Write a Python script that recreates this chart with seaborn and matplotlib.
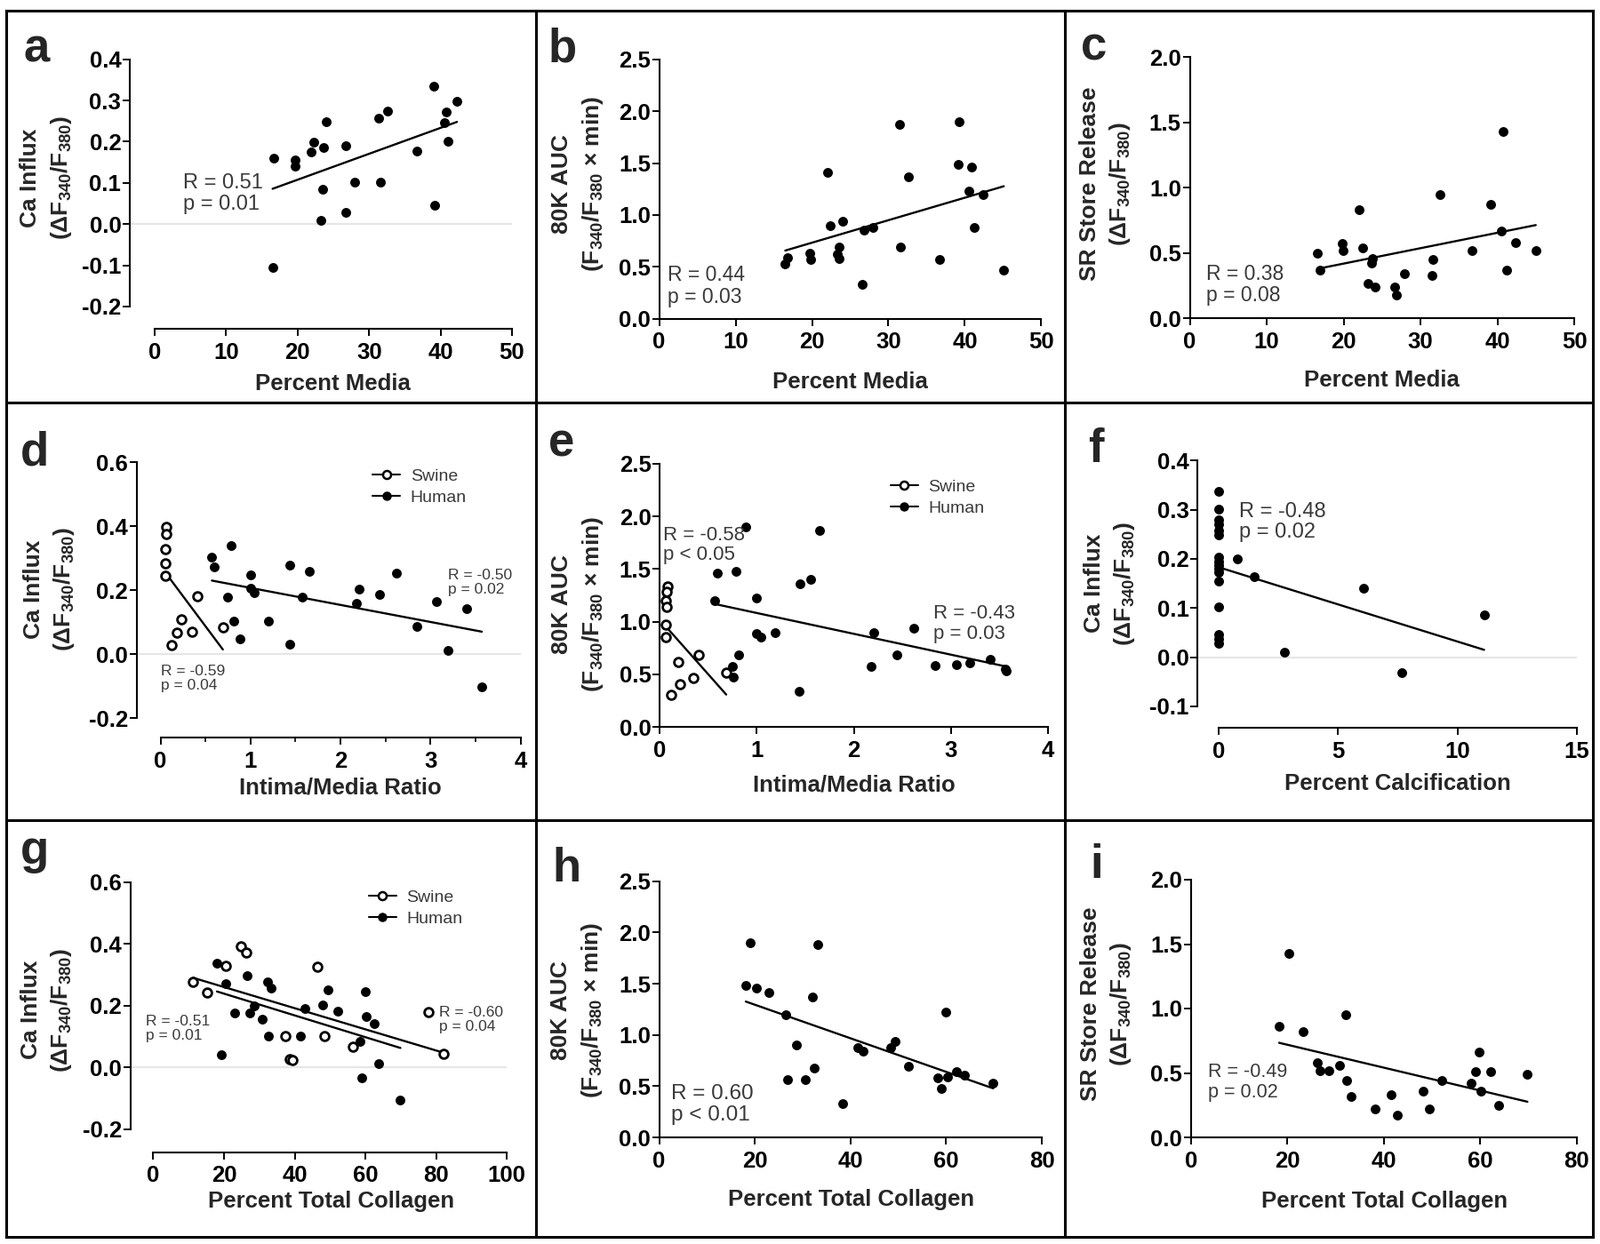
import numpy as np
import pandas as pd
import matplotlib
matplotlib.use("Agg")
import matplotlib.pyplot as plt
import seaborn as sns
from matplotlib.lines import Line2D
from matplotlib.ticker import FormatStrFormatter, MultipleLocator

sns.set_theme(style="ticks")
plt.rcParams["font.family"] = ["Liberation Sans", "DejaVu Sans"]
plt.rcParams["font.weight"] = "bold"
plt.rcParams["axes.unicode_minus"] = False
plt.rcParams["mathtext.fontset"] = "custom"
plt.rcParams["mathtext.rm"] = "Liberation Sans:bold"
plt.rcParams["mathtext.it"] = "Liberation Sans:bold"
plt.rcParams["mathtext.bf"] = "Liberation Sans:bold"
plt.rcParams["mathtext.default"] = "rm"

# ---------------- data ----------------
# a: Percent Media vs Ca influx
a_media = [16.7, 16.5, 19.6, 19.6, 21.9, 22.3, 23.6, 24.0, 23.5, 23.2, 26.8, 28.0, 26.7,
           31.4, 32.6, 31.6, 36.7, 39.1, 39.2, 40.8, 40.5, 41.0, 42.3]
a_ca = [0.161, -0.105, 0.156, 0.14, 0.176, 0.199, 0.185, 0.249, 0.085, 0.009, 0.19, 0.101, 0.029,
        0.257, 0.275, 0.101, 0.178, 0.335, 0.045, 0.272, 0.246, 0.201, 0.298]
# b: Percent Media vs 80K AUC
b_media = [16.5, 16.8, 19.7, 19.8, 22.0, 22.4, 24.0, 23.6, 23.3, 23.5, 26.6, 26.8, 28.0, 31.4,
           31.6, 32.6, 36.7, 39.2, 39.1, 40.9, 40.5, 41.2, 42.4, 45.1]
b_auc = [0.53, 0.59, 0.63, 0.57, 1.41, 0.90, 0.94, 0.69, 0.62, 0.58, 0.33, 0.85, 0.88, 1.87,
         0.69, 1.37, 0.57, 1.90, 1.49, 1.46, 1.23, 0.88, 1.20, 0.47]
# c: Percent Media vs SR store release
c_media = [16.6, 16.9, 19.8, 19.9, 22.0, 22.5, 23.7, 23.6, 23.2, 24.1, 26.7, 26.9, 27.9, 31.5,
           31.6, 32.6, 36.7, 39.1, 40.5, 40.8, 41.2, 42.4, 45.0]
c_sr = [0.50, 0.37, 0.57, 0.52, 0.83, 0.54, 0.46, 0.42, 0.27, 0.24, 0.24, 0.18, 0.34, 0.33,
        0.45, 0.95, 0.52, 0.87, 0.67, 1.43, 0.37, 0.58, 0.52]
# d: Intima/Media ratio vs Ca influx
d_swine_im = [0.065, 0.065, 0.057, 0.053, 0.057, 0.122, 0.187, 0.236, 0.35, 0.408, 0.693]
d_swine_ca = [0.397, 0.376, 0.329, 0.283, 0.244, 0.029, 0.066, 0.108, 0.070, 0.181, 0.084]
d_human_im = [0.571, 0.598, 0.789, 0.75, 0.819, 0.884, 0.998, 1.006, 1.044, 1.2, 1.436, 1.436,
              1.57, 1.653, 2.179, 2.21, 2.438, 2.617, 2.846, 3.063, 3.196, 3.398, 3.57]
d_human_ca = [0.304, 0.274, 0.339, 0.179, 0.103, 0.047, 0.249, 0.205, 0.193, 0.103, 0.279, 0.031,
              0.179, 0.258, 0.158, 0.203, 0.187, 0.252, 0.087, 0.164, 0.013, 0.142, -0.103]
# e: Intima/Media ratio vs 80K AUC
e_swine_im = [0.081, 0.074, 0.063, 0.07, 0.063, 0.056, 0.186, 0.116, 0.211, 0.344, 0.404, 0.684]
e_swine_auc = [1.334, 1.284, 1.197, 1.138, 0.969, 0.857, 0.618, 0.309, 0.407, 0.469, 0.683, 0.514]
e_human_im = [0.565, 0.596, 0.782, 0.888, 0.747, 0.754, 0.811, 0.993, 0.993, 1.039, 1.193, 1.449,
              1.439, 1.554, 1.649, 2.204, 2.175, 2.442, 2.618, 2.842, 3.056, 3.196, 3.404, 3.56, 3.572]
e_human_auc = [1.199, 1.461, 1.48, 1.896, 0.576, 0.478, 0.688, 1.228, 0.885, 0.851, 0.893, 1.362,
               0.337, 1.404, 1.868, 0.899, 0.576, 0.688, 0.935, 0.581, 0.59, 0.61, 0.64, 0.55, 0.534]
# f: Percent calcification vs Ca influx
f_calc = [0, 0, 0, 0, 0, 0, 0, 0, 0, 0, 0, 0, 0, 0, 0, 0, 0.76, 1.48, 2.75, 6.08, 7.67, 11.12]
f_ca = [0.337, 0.301, 0.280, 0.270, 0.258, 0.249, 0.204, 0.195, 0.187, 0.180, 0.173, 0.155,
        0.102, 0.047, 0.037, 0.028, 0.200, 0.163, 0.011, 0.141, -0.032, 0.086]
# g: Percent total collagen vs Ca influx
g_swine_col = [11.25, 15.3, 20.4, 24.8, 26.2, 46.4, 37.4, 38.6, 39.3, 48.5, 56.4, 77.9, 82.1]
g_swine_ca = [0.277, 0.241, 0.328, 0.392, 0.373, 0.325, 0.101, 0.025, 0.023, 0.101, 0.066, 0.178, 0.044]
g_human_col = [18.0, 19.2, 20.4, 23.1, 26.5, 27.2, 28.6, 30.8, 32.3, 33.3, 32.5, 41.5, 42.8, 48.0,
               49.5, 52.2, 58.5, 59.0, 60.0, 60.2, 62.6, 63.8, 69.9]
g_human_ca = [0.337, 0.042, 0.272, 0.176, 0.298, 0.176, 0.20, 0.155, 0.277, 0.258, 0.101, 0.101,
              0.189, 0.202, 0.251, 0.183, 0.085, -0.033, 0.245, 0.164, 0.141, 0.011, -0.105]
# h: Percent total collagen vs 80K AUC
h_col = [18.1, 19.0, 20.3, 23.0, 26.5, 26.9, 28.6, 30.6, 32.1, 33.1, 32.4, 38.3, 41.5, 42.7,
         48.4, 49.3, 52.1, 58.3, 59.0, 59.9, 60.3, 62.2, 63.9, 69.8]
h_auc = [1.48, 1.90, 1.46, 1.41, 1.20, 0.56, 0.90, 0.56, 1.37, 1.88, 0.68, 0.33, 0.88, 0.84,
         0.88, 0.94, 0.69, 0.58, 0.48, 1.22, 0.59, 0.64, 0.61, 0.53]
# i: Percent total collagen vs SR store release
i_col = [18.3, 20.3, 23.3, 26.3, 26.8, 28.7, 30.8, 32.2, 32.4, 33.2, 38.2, 41.5, 42.9, 48.2,
         49.4, 52.1, 58.2, 59.0, 59.7, 60.2, 62.2, 63.8, 69.8]
i_sr = [0.86, 1.43, 0.82, 0.58, 0.52, 0.52, 0.56, 0.95, 0.44, 0.32, 0.22, 0.33, 0.17, 0.36,
        0.22, 0.44, 0.42, 0.51, 0.66, 0.36, 0.51, 0.25, 0.49]

YL_CA = "Ca Influx\n(ΔF$_{340}$/F$_{380}$)"
YL_AUC = "80K AUC\n(F$_{340}$/F$_{380}$ × min)"
YL_SR = "SR Store Release\n(ΔF$_{340}$/F$_{380}$)"

# ---------------- figure ----------------
W, H = 1800, 1400
fig = plt.figure(figsize=(18, 14), dpi=100)
fig.patch.set_facecolor("white")
ANNOT = "#3a3a3a"
MS = 62


def px_axes(box, px, py):
    L, T, R, B = box
    return (px - L) / (R - L), (B - py) / (B - T)


def new_axes(box):
    L, T, R, B = box
    return fig.add_axes([L / W, 1 - B / H, (R - L) / W, (B - T) / H])


def filled(ax, x, y):
    df = pd.DataFrame({"x": x, "y": y})
    sns.scatterplot(data=df, x="x", y="y", ax=ax, color="black", s=MS, linewidth=0, zorder=4, legend=False)
    sns.regplot(data=df, x="x", y="y", ax=ax, scatter=False, ci=None, truncate=True,
                line_kws=dict(color="black", lw=1.7, zorder=3))


def hollow(ax, x, y):
    df = pd.DataFrame({"x": x, "y": y})
    sns.scatterplot(data=df, x="x", y="y", ax=ax, color="white", edgecolor="black", s=MS * 0.8,
                    linewidth=2.0, zorder=5, legend=False)
    sns.regplot(data=df, x="x", y="y", ax=ax, scatter=False, ci=None, truncate=True,
                line_kws=dict(color="black", lw=1.7, zorder=3))


def finish(ax, box, xlim, ylim, xticks, yticks, xlabel, ylabel, xlab_px, ylab_px,
           zero=False, xminor=None):
    if zero:
        ax.axhline(0, color="#e6e6e6", lw=1.6, zorder=0)
    ax.set_xlim(*xlim)
    ax.set_ylim(*ylim)
    ax.set_xticks(xticks)
    ax.set_yticks(yticks)
    ax.xaxis.set_major_formatter(FormatStrFormatter("%g"))
    ax.yaxis.set_major_formatter(FormatStrFormatter("%.1f"))
    if xminor:
        ax.xaxis.set_minor_locator(MultipleLocator(xminor))
    for s in ["top", "right"]:
        ax.spines[s].set_visible(False)
    ax.spines["left"].set_bounds(yticks[0], yticks[-1])
    ax.spines["bottom"].set_bounds(xticks[0], xticks[-1])
    for s in ["left", "bottom"]:
        ax.spines[s].set_linewidth(1.5)
        ax.spines[s].set_color("black")
    ax.tick_params(which="major", direction="out", length=5.5, width=1.4, color="black",
                   labelsize=18.5, labelcolor="black")
    ax.tick_params(axis="y", pad=1.5)
    ax.tick_params(axis="x", pad=5)
    ax.tick_params(which="minor", direction="out", length=3.5, width=1.2, color="black")
    ax.set_xlabel(xlabel, fontsize=18.5, fontweight="bold")
    ax.set_ylabel(ylabel, fontsize=19, fontweight="bold", linespacing=1.4)
    ax.xaxis.set_label_coords(*px_axes(box, *xlab_px))
    ax.yaxis.set_label_coords(*px_axes(box, ylab_px[0] - 3, ylab_px[1]))
    ax.xaxis.label.set_va("center")
    ax.yaxis.label.set_va("center")
    ax.set_facecolor("none")


def annotate(ax, x, y, txt, size):
    ax.text(x, y, txt, fontsize=size, fontweight="normal", color=ANNOT, va="top", ha="left",
            linespacing=1.1, zorder=6)


def group_legend(ax, box, px, py):
    handles = [
        Line2D([0], [0], color="black", lw=1.5, marker="o", ms=6.5, mfc="white", mec="black", mew=1.8, label="Swine"),
        Line2D([0], [0], color="black", lw=1.5, marker="o", ms=6.5, mfc="black", mec="black", label="Human"),
    ]
    ax.legend(handles=handles, loc="upper left", bbox_to_anchor=px_axes(box, px, py), frameon=False,
              prop=dict(size=14, weight="normal"), labelcolor=ANNOT, handlelength=1.6,
              handletextpad=0.6, borderaxespad=0, borderpad=0, labelspacing=0.35)


# ---- a ----
box = (146, 66.7, 576, 370)
ax = new_axes(box)
filled(ax, a_media, a_ca)
finish(ax, box, (-3.48, 50), (-0.254, 0.4), [0, 10, 20, 30, 40, 50],
       [-0.2, -0.1, 0.0, 0.1, 0.2, 0.3, 0.4], "Percent Media", YL_CA, (374, 431.7), (55.5, 200), zero=True)
annotate(ax, 4.0, 0.123, "R = 0.51\np = 0.01", 17)

# ---- b ----
box = (741.6, 66.7, 1171.4, 358.7)
ax = new_axes(box)
filled(ax, b_media, b_auc)
finish(ax, box, (0, 50), (0, 2.5), [0, 10, 20, 30, 40, 50], [0, 0.5, 1.0, 1.5, 2.0, 2.5],
       "Percent Media", YL_AUC, (956.7, 430), (653.5, 206.7))
annotate(ax, 1.1, 0.517, "R = 0.44\np = 0.03", 16.5)

# ---- c ----
box = (1338.5, 64, 1771, 358.3)
ax = new_axes(box)
filled(ax, c_media, c_sr)
finish(ax, box, (0, 50), (0, 2.0), [0, 10, 20, 30, 40, 50], [0, 0.5, 1.0, 1.5, 2.0],
       "Percent Media", YL_SR, (1554.6, 428.3), (1247, 206.7))
annotate(ax, 2.1, 0.419, "R = 0.38\np = 0.08", 16.5)

# ---- d ----
box = (153.5, 520, 585.6, 830)
ax = new_axes(box)
hollow(ax, d_swine_im, d_swine_ca)
filled(ax, d_human_im, d_human_ca)
finish(ax, box, (-0.267, 4), (-0.26, 0.6), [0, 1, 2, 3, 4], [-0.2, 0.0, 0.2, 0.4, 0.6],
       "Intima/Media Ratio", YL_CA, (382.7, 886.7), (59, 663.3), zero=True, xminor=0.5)
annotate(ax, 3.19, 0.267, "R = -0.50\np = 0.02", 12.5)
annotate(ax, 0.0, -0.033, "R = -0.59\np = 0.04", 12.5)
group_legend(ax, box, 419, 527)

# ---- e ----
box = (742.4, 521.7, 1178.6, 818.3)
ax = new_axes(box)
hollow(ax, e_swine_im, e_swine_auc)
filled(ax, e_human_im, e_human_auc)
finish(ax, box, (0, 4), (0, 2.5), [0, 1, 2, 3, 4], [0, 0.5, 1.0, 1.5, 2.0, 2.5],
       "Intima/Media Ratio", YL_AUC, (960.5, 883.3), (653.5, 680))
annotate(ax, 0.03, 1.91, "R = -0.58\np < 0.05", 16)
annotate(ax, 2.82, 1.165, "R = -0.43\np = 0.03", 16)
group_legend(ax, box, 1001.8, 539)

# ---- f ----
box = (1347.4, 518.3, 1773.7, 819.3)
ax = new_axes(box)
filled(ax, f_calc, f_ca)
finish(ax, box, (-0.89, 15), (-0.144, 0.4), [0, 5, 10, 15], [-0.1, 0.0, 0.1, 0.2, 0.3, 0.4],
       "Percent Calcification", YL_CA, (1572, 881.7), (1252, 656.7), zero=True)
annotate(ax, 0.83, 0.316, "R = -0.48\np = 0.02", 17)

# ---- g ----
box = (146.6, 992.7, 570.2, 1296.7)
ax = new_axes(box)
hollow(ax, g_swine_col, g_swine_ca)
filled(ax, g_human_col, g_human_ca)
finish(ax, box, (-6.5, 100), (-0.275, 0.6), [0, 20, 40, 60, 80, 100], [-0.2, 0.0, 0.2, 0.4, 0.6],
       "Percent Total Collagen", YL_CA, (372.3, 1351.7), (56, 1136.7), zero=True)
annotate(ax, -2.1, 0.171, "R = -0.51\np = 0.01", 12.5)
annotate(ax, 80.8, 0.2, "R = -0.60\np = 0.04", 12.5)
group_legend(ax, box, 414.7, 1001)

# ---- h ----
box = (741.6, 991.7, 1172.1, 1280)
ax = new_axes(box)
filled(ax, h_col, h_auc)
finish(ax, box, (0, 80), (0, 2.5), [0, 20, 40, 60, 80], [0, 0.5, 1.0, 1.5, 2.0, 2.5],
       "Percent Total Collagen", YL_AUC, (957.8, 1350), (652.5, 1136.7))
annotate(ax, 2.5, 0.52, "R = 0.60\np < 0.01", 17.5)

# ---- i ----
box = (1339.7, 990, 1773.7, 1280)
ax = new_axes(box)
filled(ax, i_col, i_sr)
finish(ax, box, (0, 80), (0, 2.0), [0, 20, 40, 60, 80], [0, 0.5, 1.0, 1.5, 2.0],
       "Percent Total Collagen", YL_SR, (1557.7, 1351.7), (1248, 1130))
annotate(ax, 3.56, 0.579, "R = -0.49\np = 0.02", 15.5)

# ---- panel letters ----
for letter, px, py in [("a", 27, 70), ("b", 617, 70), ("c", 1216, 68), ("d", 23, 523), ("e", 617, 513),
                       ("f", 1224, 520), ("g", 23, 972), ("h", 621, 992), ("i", 1226, 988)]:
    fig.text(px / W, 1 - py / H, letter, fontsize=38, fontweight="bold", ha="left", va="baseline")

# ---- panel frames ----
def frame_line(x0, y0, x1, y1):
    fig.add_artist(Line2D([x0 / W, x1 / W], [1 - y0 / H, 1 - y1 / H], transform=fig.transFigure,
                          color="black", lw=2.2, solid_capstyle="projecting"))

LEFT, RIGHT, TOP, BOT = 7, 1792, 12, 1392
for y in (TOP, 453, 923, BOT):
    frame_line(LEFT, y, RIGHT, y)
for x in (LEFT, 603, 1198, RIGHT):
    frame_line(x, TOP, x, BOT)

fig.savefig("out.png", dpi=100, facecolor="white")
